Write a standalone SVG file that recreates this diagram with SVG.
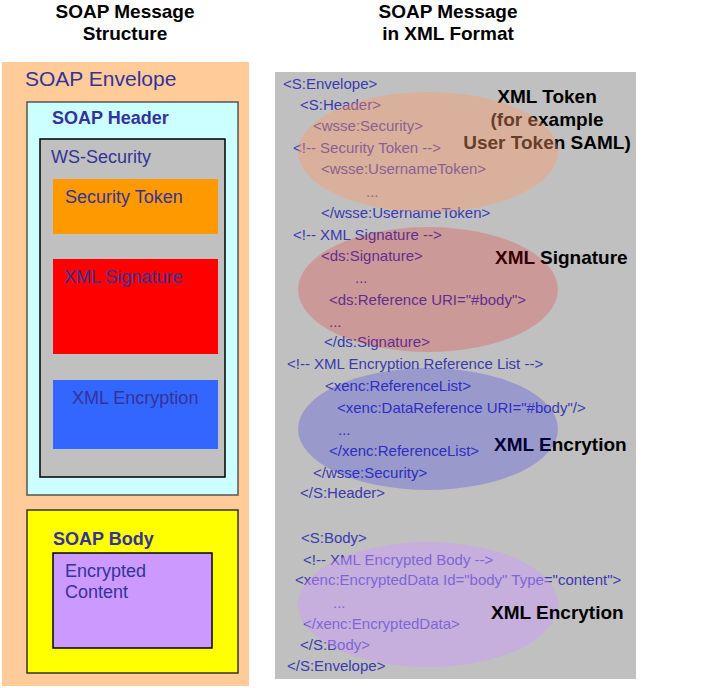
<svg xmlns="http://www.w3.org/2000/svg" width="709" height="688" viewBox="0 0 709 688">
<style>
.title{font-family:"Liberation Sans",Arial,sans-serif;font-weight:bold;font-size:19px;fill:#000;text-anchor:middle}
.lt{font-family:"Liberation Sans",Arial,sans-serif;font-size:18px;fill:#333399}
.lb{font-family:"Liberation Sans",Arial,sans-serif;font-size:18px;font-weight:bold;fill:#333399}
.x{font-family:"Liberation Sans",Arial,sans-serif;font-size:15px;fill:#3a3ab0}
.lab{font-family:"Liberation Sans",Arial,sans-serif;font-size:19px;font-weight:bold;fill:#000}
</style>
<rect width="709" height="688" fill="#fff"/>
<g id="titles">
<text class="title" x="125" y="18">SOAP Message</text>
<text class="title" x="125" y="40">Structure</text>
<text class="title" x="448" y="18">SOAP Message</text>
<text class="title" x="448" y="40">in XML Format</text>
</g>
<g id="envelope">
<rect x="2" y="62" width="247" height="624" fill="#FFCC99"/>
<text class="lt" x="25" y="86" style="font-size:21px">SOAP Envelope</text>
</g>
<g id="header">
<rect x="27" y="102" width="211" height="393" fill="#CCFFFF" stroke="#555" stroke-width="1.5"/>
<text class="lb" x="52" y="124">SOAP Header</text>
</g>
<g id="wssecurity">
<rect x="40" y="139" width="185" height="338" fill="#C0C0C0" stroke="#000" stroke-width="1.5"/>
<text class="lt" x="51" y="163">WS-Security</text>
</g>
<g id="securitytoken">
<rect x="53" y="179" width="165" height="55" fill="#FF9900"/>
<text class="lt" x="65" y="203">Security Token</text>
</g>
<g id="xmlsignature">
<rect x="53" y="259" width="165" height="95" fill="#FF0000"/>
<text class="lt" x="64" y="283">XML Signature</text>
</g>
<g id="xmlencryption">
<rect x="53" y="380" width="165" height="69" fill="#3366FF"/>
<text class="lt" x="72" y="404">XML Encryption</text>
</g>
<g id="body">
<rect x="27" y="510" width="211" height="163" fill="#FFFF00" stroke="#333" stroke-width="1.5"/>
<text class="lb" x="53" y="545">SOAP Body</text>
</g>
<g id="encryptedcontent">
<rect x="53" y="553" width="159" height="95" fill="#CC99FF" stroke="#000" stroke-width="1.5"/>
<text class="lt" x="65" y="577">Encrypted</text>
<text class="lt" x="65" y="598">Content</text>
</g>
<g id="xmlpanel">
<rect x="275" y="72" width="361" height="607" fill="#C0C0C0"/>
<text class="x" x="283" y="89">&lt;S:Envelope&gt;</text>
<text class="x" x="300" y="110">&lt;S:Header&gt;</text>
<text class="x" x="313" y="131">&lt;wsse:Security&gt;</text>
<text class="x" x="293" y="153">&lt;!-- Security Token --&gt;</text>
<text class="x" x="321" y="174">&lt;wsse:UsernameToken&gt;</text>
<text class="x" x="366" y="197">...</text>
<text class="x" x="321" y="218">&lt;/wsse:UsernameToken&gt;</text>
<text class="x" x="293" y="240">&lt;!-- XML Signature --&gt;</text>
<text class="x" x="321" y="261">&lt;ds:Signature&gt;</text>
<text class="x" x="355" y="283">...</text>
<text class="x" x="329" y="305">&lt;ds:Reference URI="#body"&gt;</text>
<text class="x" x="329" y="327">...</text>
<text class="x" x="324" y="347">&lt;/ds:Signature&gt;</text>
<text class="x" x="287" y="369">&lt;!-- XML Encryption Reference List --&gt;</text>
<text class="x" x="325" y="391">&lt;xenc:ReferenceList&gt;</text>
<text class="x" x="337" y="413">&lt;xenc:DataReference URI="#body"/&gt;</text>
<text class="x" x="338" y="435">...</text>
<text class="x" x="329" y="456">&lt;/xenc:ReferenceList&gt;</text>
<text class="x" x="313" y="478">&lt;/wsse:Security&gt;</text>
<text class="x" x="300" y="498">&lt;/S:Header&gt;</text>
<text class="x" x="301" y="543">&lt;S:Body&gt;</text>
<text class="x" x="303" y="565">&lt;!-- XML Encrypted Body --&gt;</text>
<text class="x" x="295" y="585">&lt;xenc:EncryptedData Id="body" Type="content"&gt;</text>
<text class="x" x="333" y="608">...</text>
<text class="x" x="303" y="629">&lt;/xenc:EncryptedData&gt;</text>
<text class="x" x="300" y="650">&lt;/S:Body&gt;</text>
<text class="x" x="287" y="671">&lt;/S:Envelope&gt;</text>
</g>
<g id="labels">
<text class="lab" x="547" y="103" text-anchor="middle">XML Token</text>
<text class="lab" x="547" y="126" text-anchor="middle">(for example</text>
<text class="lab" x="547" y="149" text-anchor="middle">User Token SAML)</text>
<text class="lab" x="495" y="264">XML Signature</text>
<text class="lab" x="494" y="451">XML Encrytion</text>
</g>
<g id="tokenellipse"><ellipse cx="428" cy="152" rx="130" ry="60" fill="#FF9966" opacity="0.4"/></g>
<g id="signatureellipse"><ellipse cx="428" cy="289.5" rx="130" ry="62.5" fill="#FF0000" opacity="0.2"/></g>
<g id="encryptionellipse"><ellipse cx="428" cy="429" rx="130" ry="61" fill="#0000FF" opacity="0.2"/></g>
<g id="bodyellipse"><ellipse cx="428" cy="604.5" rx="130" ry="62.5" fill="#CC99FF" opacity="0.46"/></g>
<g id="bodylabel">
<text class="lab" x="491" y="619">XML Encrytion</text>
</g>
</svg>
